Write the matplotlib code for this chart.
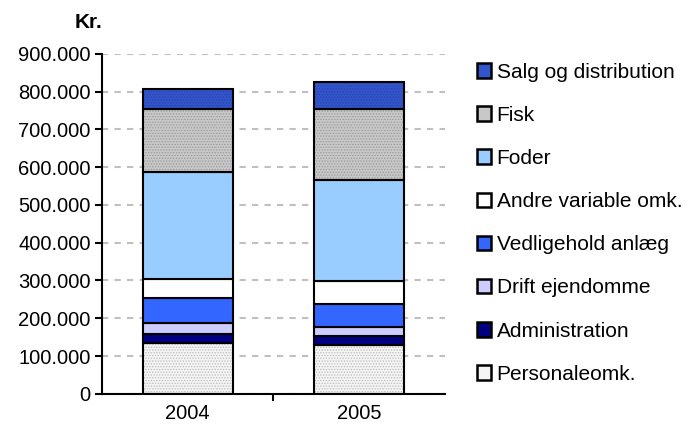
import matplotlib.pyplot as plt
from matplotlib.patches import Patch
from matplotlib.ticker import FuncFormatter
import numpy as np

plt.rcParams['font.family'] = ['Liberation Sans', 'DejaVu Sans']

# data (kr.)
years = ["2004", "2005"]
personaleomk = [135000, 128000]
administration = [23000, 24000]
drift_ejendomme = [30000, 25000]
vedligehold = [66000, 60000]
andre_variable = [49000, 61000]
foder = [284000, 268000]
fisk = [166000, 189000]
salg = [55000, 71000]

serier = [
    ("Personaleomk.", personaleomk, "#F4F4F4", "#BBBBBB"),
    ("Administration", administration, "#000080", None),
    ("Drift ejendomme", drift_ejendomme, "#CCCCFF", None),
    ("Vedligehold anlæg", vedligehold, "#3366FF", None),
    ("Andre variable omk.", andre_variable, "#FFFFFF", None),
    ("Foder", foder, "#99CCFF", None),
    ("Fisk", fisk, "#C8C8C8", "#999999"),
    ("Salg og distribution", salg, "#3355CC", "#2A44AA"),
]

fig = plt.figure(figsize=(6.88, 4.26), dpi=100)
ax = fig.add_axes([0.148, 0.0756, 0.499, 0.798])

x = np.arange(len(years))
bund = np.zeros(len(years))
plt.rcParams['hatch.linewidth'] = 0.6
for navn, vaerdier, farve, prik in serier:
    vaerdier = np.array(vaerdier)
    if prik:
        ax.bar(x, vaerdier, 0.525, bottom=bund, color=farve, edgecolor=prik,
               hatch='......', linewidth=0, zorder=2)
        ax.bar(x, vaerdier, 0.525, bottom=bund, fill=False, edgecolor='black',
               linewidth=1.5, zorder=3)
    else:
        ax.bar(x, vaerdier, 0.525, bottom=bund, color=farve, edgecolor='black',
               linewidth=1.5, zorder=3)
    bund += vaerdier

ax.set_xlim(-0.5, 1.5)
ax.set_ylim(0, 900000)
ax.set_yticks(range(0, 900001, 100000))
ax.yaxis.set_major_formatter(FuncFormatter(lambda v, p: f"{int(v):,}".replace(",", ".")))
ax.set_xticks([0.5], minor=False)
ax.set_xticks(x, minor=True)
ax.set_xticklabels([""])
ax.set_xticklabels(years, minor=True)
ax.tick_params(axis='x', which='minor', length=0, labelsize=14.5, pad=7)
ax.tick_params(axis='x', which='major', length=5, width=1.5, direction='out')
ax.tick_params(axis='y', length=5, width=1.5, labelsize=14.5, direction='out', pad=3)
ax.yaxis.grid(True, linestyle=(0, (3, 3)), color='#C0C0C0', linewidth=1.5, zorder=0)
ax.set_axisbelow(True)
for s in ['top', 'right']:
    ax.spines[s].set_visible(False)
for s in ['left', 'bottom']:
    ax.spines[s].set_linewidth(1.5)

fig.text(0.108, 0.934, "Kr.", fontsize=15, fontweight='bold')

handles = [Patch(facecolor=f, edgecolor='black', linewidth=1.8, label=n)
           for n, v, f, p in reversed(serier)]
fig.legend(handles=handles, loc='upper left', bbox_to_anchor=(0.693, 0.853),
           frameon=False, fontsize=15, handlelength=0.7, handleheight=0.7,
           handletextpad=0.25, labelspacing=1.16, borderaxespad=0,
           borderpad=0)

fig.savefig("out.png", dpi=100)
